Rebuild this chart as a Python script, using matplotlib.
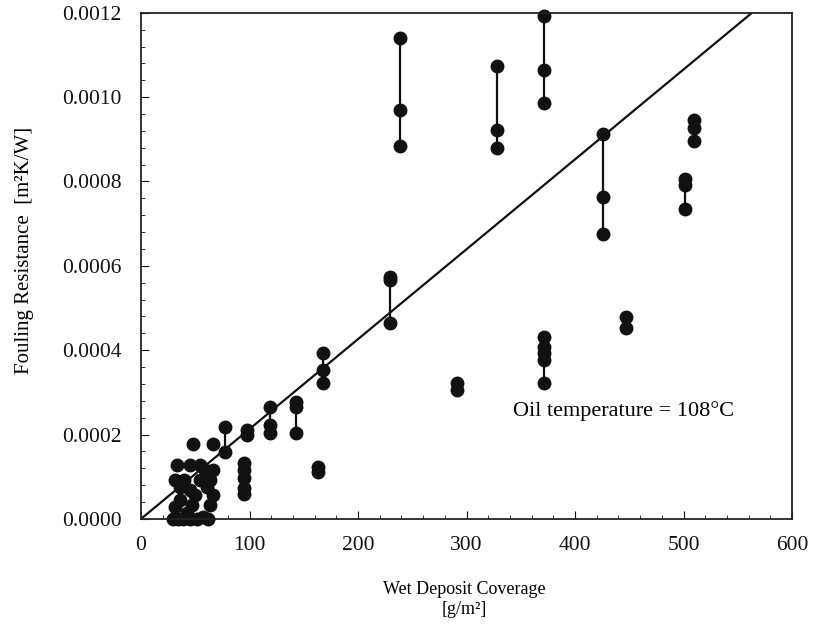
import numpy as np
import matplotlib.pyplot as plt
from matplotlib.ticker import MultipleLocator, FormatStrFormatter

plt.rcParams['font.family'] = ['Liberation Serif', 'DejaVu Serif']

# scattered points (wet deposit coverage g/m2, fouling resistance m2K/W)
cov = [239, 239, 239, 328, 328, 328, 371, 371, 371, 426, 426, 426,
       510, 510, 510, 501, 501, 501, 229, 229, 229, 371, 371, 371, 371, 371,
       447, 447, 291, 291, 163, 163, 168, 168, 168, 143, 143, 143,
       119, 119, 119, 98, 98, 95, 95, 95, 95, 95, 77, 77, 66, 48,
       31, 29, 42, 52, 57, 36, 61, 66, 33, 45, 54, 66, 40, 50, 59, 36,
       47, 64, 39, 45, 34, 62, 31, 54, 64, 45]
res = [0.00114, 0.00097, 0.000885, 0.001074, 0.000922, 0.00088,
       0.001193, 0.001065, 0.000987, 0.000913, 0.000764, 0.000676,
       0.000946, 0.000927, 0.000896, 0.000806, 0.000792, 0.000735,
       0.000574, 0.000567, 0.000465, 0.000432, 0.000408, 0.000394, 0.000377, 0.000323,
       0.000479, 0.000453, 0.000323, 0.000306, 0.000123, 0.000111,
       0.000394, 0.000353, 0.000323, 0.000277, 0.000266, 0.000204,
       0.000266, 0.000223, 0.000204, 0.000211, 0.0002,
       0.000133, 0.000116, 0.000097, 0.000074, 0.00006, 0.000218, 0.000159,
       0.000178, 0.000178,
       0.000028, 0.0, 0.000014, 0.0, 0.000005, 0.000076, 0.000076, 0.000057,
       0.000128, 0.000128, 0.000128, 0.000116, 0.000092, 0.000057, 0.000116,
       0.000045, 0.000033, 0.000033, 0.0, 0.0, 0.0, 0.0, 0.000092, 0.000092,
       0.000092, 0.000069]

# vertical ranges joining repeated measurements
seg_x = [239, 328, 371, 426, 501, 229, 371, 168, 143, 119, 77]
seg_lo = [0.000885, 0.00088, 0.000987, 0.000676, 0.000735, 0.000465, 0.000323,
          0.000323, 0.000204, 0.000204, 0.000159]
seg_hi = [0.00114, 0.001074, 0.001193, 0.000913, 0.000792, 0.000574, 0.000432,
          0.000394, 0.000277, 0.000266, 0.000218]

# fitted line
fit_x = [0, 563]
fit_y = [0, 0.0012]

fig = plt.figure(figsize=(8.2, 6.39), dpi=100)
ax = fig.add_axes([0.172, 0.188, 0.794, 0.792])

ax.vlines(seg_x, seg_lo, seg_hi, color='#111111', lw=1.6)
ax.plot(fit_x, fit_y, color='#111111', lw=1.6)
ax.plot(cov, res, 'o', color='#111111', ms=9, clip_on=False)

ax.set_xlim(0, 600)
ax.set_ylim(0, 0.0012)
ax.xaxis.set_major_locator(MultipleLocator(100))
ax.xaxis.set_minor_locator(MultipleLocator(20))
ax.yaxis.set_major_locator(MultipleLocator(0.0002))
ax.yaxis.set_minor_locator(MultipleLocator(0.00004))
ax.yaxis.set_major_formatter(FormatStrFormatter('%.4f'))
ax.tick_params(which='both', direction='in', top=False, right=False,
               labelsize=15.5, colors='#111111')
ax.tick_params(which='major', length=6)
ax.tick_params(axis='y', which='major', pad=14)
ax.tick_params(axis='x', which='major', pad=12)
ax.tick_params(which='minor', length=3)
for s in ax.spines.values():
    s.set_linewidth(1.3)
    s.set_color('#222222')

ax.set_xlabel('Wet Deposit Coverage\n[g/m²]', fontsize=13, linespacing=1.25)
ax.xaxis.set_label_coords(0.497, -0.123, transform=ax.transAxes)
ax.xaxis.label.set_va('top')
ax.set_ylabel('Fouling Resistance  [m²K/W]', fontsize=15)
ax.yaxis.set_label_coords(-0.165, 0.53)
ax.text(343, 0.000256, 'Oil temperature = 108°C', fontsize=16, va='center')

fig.savefig('out.png', dpi=100)
